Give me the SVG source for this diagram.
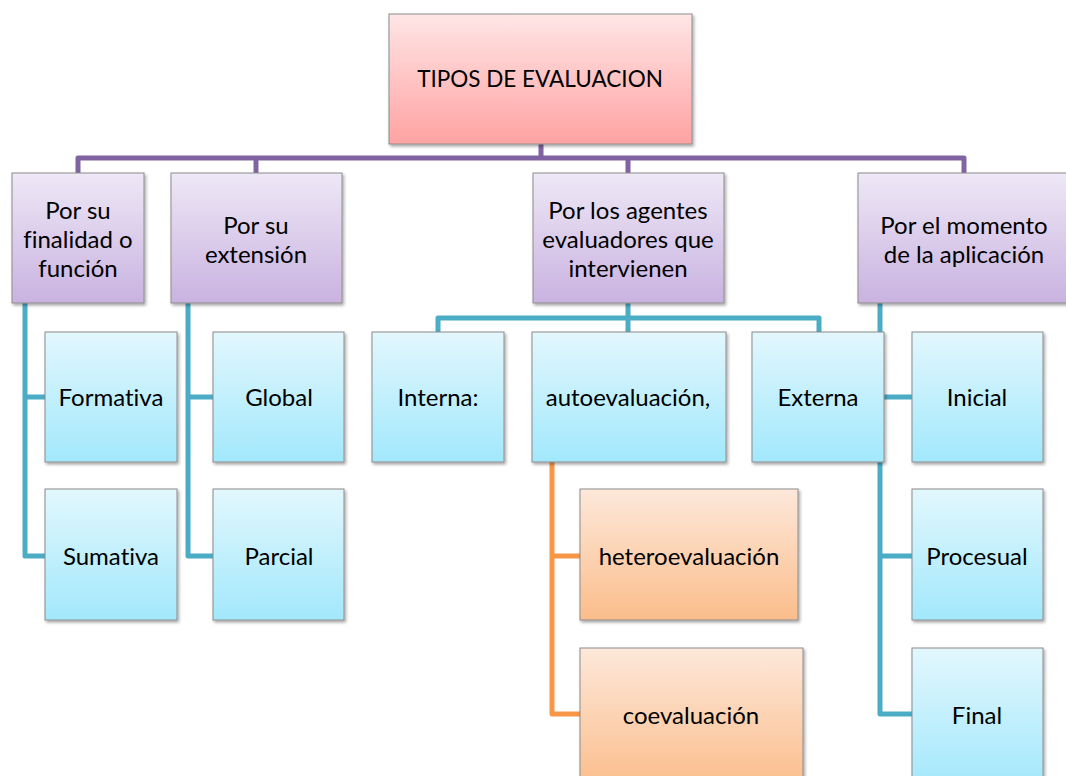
<svg xmlns="http://www.w3.org/2000/svg" width="1066" height="776" viewBox="0 0 1066 776">
<defs>
<linearGradient id="gPink" x1="0" y1="0" x2="0" y2="1"><stop offset="0" stop-color="#ffe6e6"/><stop offset="1" stop-color="#ffa2a2"/></linearGradient>
<linearGradient id="gPurple" x1="0" y1="0" x2="0" y2="1"><stop offset="0" stop-color="#eee8f6"/><stop offset="1" stop-color="#c9b2e0"/></linearGradient>
<linearGradient id="gTeal" x1="0" y1="0" x2="0" y2="1"><stop offset="0" stop-color="#e2f7fd"/><stop offset="1" stop-color="#a2e8fc"/></linearGradient>
<linearGradient id="gOrange" x1="0" y1="0" x2="0" y2="1"><stop offset="0" stop-color="#fde8da"/><stop offset="1" stop-color="#fbbd8b"/></linearGradient>
<filter id="sh" x="-10%" y="-10%" width="130%" height="130%"><feDropShadow dx="1.5" dy="2" stdDeviation="1.5" flood-color="#000" flood-opacity="0.35"/></filter>
</defs>
<style>
.box{stroke:#8c8c8c;stroke-width:1;filter:url(#sh)}
.pk{fill:url(#gPink)}.pu{fill:url(#gPurple)}.te{fill:url(#gTeal)}.or{fill:url(#gOrange)}
text{font-family:Lato,"Open Sans","Liberation Sans",sans-serif;font-size:24px;fill:#000;text-anchor:middle;dominant-baseline:central;font-variant-ligatures:none}
.t0{font-size:22.5px}
.c{fill:none;stroke-width:5;stroke-linejoin:round}
.cp{stroke:#8064a2}.ct{stroke:#4bacc6}.co{stroke:#f79646}
</style>
<g id="connectors">
<path class="c cp" d="M541,144 V158 M78,173 V158 H964 V173 M256,158 V173 M628,158 V173"/>
<path class="c ct" d="M25,303 V556 H45 M25,397 H45"/>
<path class="c ct" d="M188,303 V556 H213 M188,397 H213"/>
<path class="c ct" d="M628,303 V318 M438,332 V318 H819 V332 M628,318 V332"/>
<path class="c ct" d="M880,303 V714 H912 M880,397 H912 M880,556 H912 M884,397 H912"/>
<path class="c co" d="M552,462 V714 H580 M552,556 H580"/>
</g>
<g id="n-root"><rect class="box pk" x="389" y="14" width="303" height="130"/><text class="t0" x="540" y="78">TIPOS DE EVALUACION</text></g>
<g id="n-finalidad"><rect class="box pu" x="12" y="173" width="132" height="130"/><text x="78" y="209">Por su</text><text x="78" y="238">finalidad o</text><text x="78" y="267">función</text></g>
<g id="n-extension"><rect class="box pu" x="171" y="173" width="171" height="130"/><text x="256" y="224">Por su</text><text x="256" y="253">extensión</text></g>
<g id="n-agentes"><rect class="box pu" x="533" y="173" width="191" height="130"/><text x="628" y="209">Por los agentes</text><text x="628" y="238">evaluadores que</text><text x="628" y="267">intervienen</text></g>
<g id="n-momento"><rect class="box pu" x="858" y="173" width="212" height="130"/><text x="964" y="224">Por el momento</text><text x="964" y="253">de la aplicación</text></g>
<g id="n-formativa"><rect class="box te" x="45" y="332" width="132" height="130"/><text x="111" y="396">Formativa</text></g>
<g id="n-sumativa"><rect class="box te" x="45" y="489" width="132" height="131"/><text x="111" y="555">Sumativa</text></g>
<g id="n-global"><rect class="box te" x="213" y="332" width="131" height="130"/><text x="279" y="396">Global</text></g>
<g id="n-parcial"><rect class="box te" x="213" y="489" width="131" height="131"/><text x="279" y="555">Parcial</text></g>
<g id="n-interna"><rect class="box te" x="372" y="332" width="132" height="130"/><text x="438" y="396">Interna:</text></g>
<g id="n-auto"><rect class="box te" x="532" y="332" width="194" height="130"/><text x="628" y="396">autoevaluación,</text></g>
<g id="n-externa"><rect class="box te" x="752" y="332" width="132" height="130"/><text x="818" y="396">Externa</text></g>
<g id="n-inicial"><rect class="box te" x="912" y="332" width="131" height="130"/><text x="977" y="396">Inicial</text></g>
<g id="n-hetero"><rect class="box or" x="580" y="489" width="218" height="131"/><text x="689" y="555">heteroevaluación</text></g>
<g id="n-coev"><rect class="box or" x="580" y="648" width="223" height="140"/><text x="691" y="714">coevaluación</text></g>
<g id="n-procesual"><rect class="box te" x="912" y="489" width="131" height="131"/><text x="977" y="555">Procesual</text></g>
<g id="n-final"><rect class="box te" x="912" y="648" width="131" height="140"/><text x="977" y="714">Final</text></g>
</svg>
